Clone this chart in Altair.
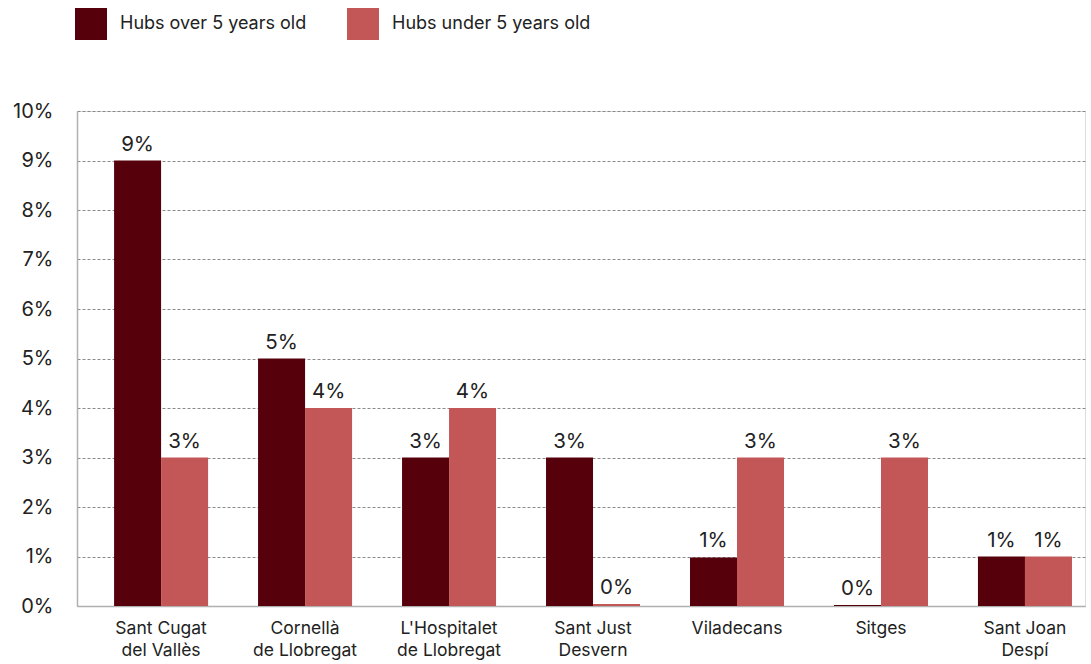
import altair as alt
import pandas as pd

cities = [
    "Sant Cugat\ndel Vallès",
    "Cornellà\nde Llobregat",
    "L'Hospitalet\nde Llobregat",
    "Sant Just\nDesvern",
    "Viladecans",
    "Sitges",
    "Sant Joan\nDespí",
]
series_names = ["Hubs over 5 years old", "Hubs under 5 years old"]
over_5 = [0.09, 0.05, 0.03, 0.03, 0.0098, 0.0002, 0.01]
under_5 = [0.03, 0.04, 0.04, 0.0004, 0.03, 0.03, 0.01]
colors = ["#56000c", "#c35757"]
y_ticks = [i / 100 for i in range(0, 11)]

rows = []
for c, o, u in zip(cities, over_5, under_5):
    rows.append({"city": c, "series": series_names[0], "value": o})
    rows.append({"city": c, "series": series_names[1], "value": u})
df = pd.DataFrame(rows)

FONT = "Inter"

x_enc = alt.X(
    "city:N",
    sort=cities,
    scale=alt.Scale(paddingInner=0.347, paddingOuter=0.174, align=0.74),
    axis=alt.Axis(
        title=None,
        labelAngle=0,
        labelExpr="split(datum.label, '\\n')",
        labelFontSize=17.5,
        labelLineHeight=22,
        labelPadding=13,
        labelColor="#222222",
        labelFont=FONT,
        ticks=False,
        domainColor="#b0b0b0",
        domainWidth=1.5,
        grid=False,
    ),
)
xoff = alt.XOffset("series:N", sort=series_names, scale=alt.Scale(paddingInner=0))
y_enc = alt.Y(
    "value:Q",
    scale=alt.Scale(domain=[0, 0.1], nice=False),
    axis=alt.Axis(
        title=None,
        values=y_ticks,
        format=".0%",
        grid=True,
        gridDash=[3, 2],
        gridColor="#8a8a8a",
        gridWidth=1,
        domainColor="#b0b0b0",
        domainWidth=1.5,
        ticks=False,
        labelPadding=24,
        labelFontSize=20,
        labelColor="#222222",
        labelFont=FONT,
    ),
)

bars = alt.Chart(df).mark_bar().encode(
    x=x_enc,
    xOffset=xoff,
    y=y_enc,
    color=alt.Color(
        "series:N",
        sort=series_names,
        scale=alt.Scale(domain=series_names, range=colors),
        legend=alt.Legend(
            title=None,
            orient="none",
            legendX=-2,
            legendY=-103,
            direction="horizontal",
            symbolType="square",
            symbolSize=1024,
            symbolStrokeWidth=0,
            symbolOpacity=1,
            labelFontSize=18,
            labelFont=FONT,
            labelColor="#222222",
            labelOffset=13,
            labelLimit=400,
            columnPadding=40,
            padding=0,
        ),
    ),
)

labels = alt.Chart(df).mark_text(
    baseline="alphabetic", dy=-10, fontSize=20.5, font=FONT, color="#222222"
).encode(
    x=alt.X("city:N", sort=cities),
    xOffset=alt.XOffset("series:N", sort=series_names),
    y=alt.Y("value:Q"),
    text=alt.Text("value:Q", format=".0%"),
)

chart = (
    alt.layer(bars, labels)
    .properties(
        width=1008,
        height=495,
        autosize=alt.AutoSizeParams(type="none"),
        padding={"left": 77, "top": 111, "right": 6, "bottom": 58},
    )
    .configure_view(stroke=None)
    .configure(background="white")
)

chart.save("out.html", embed_options={"renderer": "svg", "actions": False})
